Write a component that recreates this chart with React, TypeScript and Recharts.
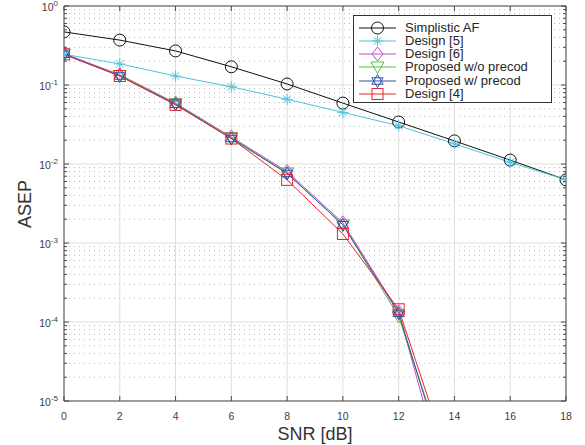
import React from 'react';
import { LineChart, Line, XAxis, YAxis, CartesianGrid } from 'recharts';

// ---- data ----
const SNR = [0, 2, 4, 6, 8, 10, 12, 14, 16, 18];
const SIMPLISTIC_AF = [0.47, 0.37, 0.27, 0.17, 0.103, 0.059, 0.034, 0.0196, 0.0112, 0.0063];
const DESIGN_5 = [0.245, 0.185, 0.13, 0.095, 0.066, 0.045, 0.0305, 0.018, 0.0105, 0.0063];
const DESIGN_6 = [0.25, 0.135, 0.059, 0.022, 0.008, 0.0018, 0.000135, 3.6e-7, null, null];
const PROPOSED_NO_PRECOD = [0.245, 0.132, 0.058, 0.0215, 0.0077, 0.0017, 0.000117, 8.5e-7, null, null];
const PROPOSED_PRECOD = [0.245, 0.13, 0.057, 0.021, 0.0076, 0.0017, 0.000129, 6.7e-7, null, null];
const DESIGN_4 = [0.245, 0.13, 0.056, 0.021, 0.0063, 0.0013, 0.000145, 1.07e-6, null, null];

const X_TICKS = [0, 2, 4, 6, 8, 10, 12, 14, 16, 18];
const Y_DECADES = [1e-5, 1e-4, 1e-3, 1e-2, 1e-1, 1];
const Y_EXPONENTS = ['-5', '-4', '-3', '-2', '-1', '0'];
const MINOR_MULT = [2, 3, 4, 5, 6, 7, 8, 9];
const Y_MINOR = Y_DECADES.slice(0, -1).flatMap((d) => MINOR_MULT.map((m) => m * d));
const Y_ALL_TICKS = [...Y_DECADES, ...Y_MINOR].sort((a, b) => a - b);

const SERIES = [
  { key: 'simplistic', name: 'Simplistic AF', color: '#111111', shape: 'circle', values: SIMPLISTIC_AF },
  { key: 'design5', name: 'Design [5]', color: '#4fc4da', shape: 'asterisk', values: DESIGN_5 },
  { key: 'design6', name: 'Design [6]', color: '#bf4fbf', shape: 'diamond', values: DESIGN_6 },
  { key: 'propNo', name: 'Proposed w/o precod', color: '#57c03e', shape: 'triangleDown', values: PROPOSED_NO_PRECOD },
  { key: 'propW', name: 'Proposed w/ precod', color: '#2f4fab', shape: 'hexagram', values: PROPOSED_PRECOD },
  { key: 'design4', name: 'Design [4]', color: '#e8242b', shape: 'square', values: DESIGN_4 },
];

const DATA = SNR.map((x, i) => {
  const row: any = { snr: x };
  SERIES.forEach((s) => {
    row[s.key] = s.values[i];
  });
  return row;
});

const W = 585;
const H = 445;
const AXIS_COLOR = '#4a4a4a';
const TEXT_COLOR = '#404040';
const FONT = '"Liberation Sans", Arial, Helvetica, sans-serif';

function Marker({ shape, cx, cy, color }: { shape: string; cx: number; cy: number; color: string }) {
  const common = { fill: 'none', stroke: color, strokeWidth: 1 };
  switch (shape) {
    case 'circle':
      return <circle cx={cx} cy={cy} r={6} {...common} />;
    case 'asterisk': {
      const r = 5.5;
      const d = r * 0.707;
      return (
        <g {...common}>
          <line x1={cx - r} y1={cy} x2={cx + r} y2={cy} />
          <line x1={cx} y1={cy - r} x2={cx} y2={cy + r} />
          <line x1={cx - d} y1={cy - d} x2={cx + d} y2={cy + d} />
          <line x1={cx - d} y1={cy + d} x2={cx + d} y2={cy - d} />
        </g>
      );
    }
    case 'diamond':
      return <polygon points={`${cx},${cy - 7} ${cx + 5.5},${cy} ${cx},${cy + 7} ${cx - 5.5},${cy}`} {...common} />;
    case 'triangleDown':
      return <polygon points={`${cx - 6.5},${cy - 5} ${cx + 6.5},${cy - 5} ${cx},${cy + 6.5}`} {...common} />;
    case 'hexagram': {
      const r = 6.5;
      const a = (k: number) => {
        const ang = (Math.PI / 180) * (-90 + k * 120);
        return `${cx + r * Math.cos(ang)},${cy + r * Math.sin(ang)}`;
      };
      const b = (k: number) => {
        const ang = (Math.PI / 180) * (90 + k * 120);
        return `${cx + r * Math.cos(ang)},${cy + r * Math.sin(ang)}`;
      };
      return (
        <g {...common}>
          <polygon points={`${a(0)} ${a(1)} ${a(2)}`} />
          <polygon points={`${b(0)} ${b(1)} ${b(2)}`} />
        </g>
      );
    }
    case 'square':
      return <rect x={cx - 5.5} y={cy - 5.5} width={11} height={11} {...common} />;
    default:
      return null;
  }
}

const isMajor = (v: number) => Math.abs(Math.log10(v) - Math.round(Math.log10(v))) < 1e-6;

function LeftYTick(props: any) {
  const { x, y, payload } = props;
  const v = payload.value;
  const major = isMajor(v);
  const len = major ? 5 : 3;
  const idx = Y_DECADES.findIndex((d) => Math.abs(Math.log10(d) - Math.log10(v)) < 1e-6);
  return (
    <g>
      <line x1={x} y1={y} x2={x + len} y2={y} stroke={AXIS_COLOR} strokeWidth={1} />
      {major && idx >= 0 ? (
        <text x={x - 6} y={y + 5} textAnchor="end" fill={TEXT_COLOR} fontSize={10.5} fontFamily={FONT}>
          <tspan>10</tspan>
          <tspan dy={-5} fontSize={8}>{Y_EXPONENTS[idx]}</tspan>
        </text>
      ) : null}
    </g>
  );
}

function RightYTick(props: any) {
  const { x, y, payload } = props;
  const major = isMajor(payload.value);
  const len = major ? 5 : 3;
  return <line x1={x} y1={y} x2={x - len} y2={y} stroke={AXIS_COLOR} strokeWidth={1} />;
}

function BottomXTick(props: any) {
  const { x, y, payload } = props;
  return (
    <g>
      <line x1={x} y1={y} x2={x} y2={y - 5} stroke={AXIS_COLOR} strokeWidth={1} />
      <text x={x} y={y + 19} textAnchor="middle" fill={TEXT_COLOR} fontSize={10.5} fontFamily={FONT}>
        {payload.value}
      </text>
    </g>
  );
}

function TopXTick(props: any) {
  const { x, y } = props;
  return <line x1={x} y1={y} x2={x} y2={y + 5} stroke={AXIS_COLOR} strokeWidth={1} />;
}

function LegendBox() {
  const left = 353;
  const top = 15;
  const rowH = 13.3;
  return (
    <div
      style={{
        position: 'absolute',
        left,
        top,
        width: 199,
        height: 88,
        boxSizing: 'border-box',
        border: '1px solid #333',
        background: '#fff',
        fontFamily: FONT,
        fontSize: 13,
        color: '#262626',
      }}
    >
      {SERIES.map((s, i) => {
        const cy = 11.5 + i * rowH;
        return (
          <div key={s.key} style={{ position: 'absolute', left: 0, top: cy - 7, height: 14, width: 197 }}>
            <svg width={46} height={14} style={{ position: 'absolute', left: 0, top: 0, overflow: 'visible' }}>
              <line x1={5} y1={7} x2={42} y2={7} stroke={s.color} strokeWidth={1} />
              <Marker shape={s.shape} cx={23.5} cy={7} color={s.color} />
            </svg>
            <span style={{ position: 'absolute', left: 51, top: 0, lineHeight: '14px', height: 14, whiteSpace: 'nowrap' }}>
              {s.name}
            </span>
          </div>
        );
      })}
    </div>
  );
}

export default function App() {
  return (
    <div style={{ position: 'absolute', left: 0, top: 0, width: W, height: H, background: '#fff' }}>
      <LineChart width={W} height={H} data={DATA} margin={{ top: 0, right: 0, bottom: 0, left: 0 }}>
        <CartesianGrid
          horizontalValues={Y_MINOR}
          vertical={false}
          stroke="#b8b8b8"
          strokeDasharray="1 4"
        />
        <CartesianGrid
          horizontalValues={Y_DECADES}
          verticalValues={X_TICKS}
          stroke="#dedede"
        />
        <XAxis
          dataKey="snr"
          type="number"
          domain={[0, 18]}
          ticks={X_TICKS}
          interval={0}
          height={44}
          allowDataOverflow
          axisLine={{ stroke: AXIS_COLOR }}
          tickLine={false}
          tickSize={0}
          tickMargin={0}
          tick={<BottomXTick />}
          label={{
            value: 'SNR [dB]',
            position: 'insideBottom',
            offset: 5,
            fill: '#333',
            fontSize: 18,
            fontFamily: FONT,
          }}
        />
        <XAxis
          xAxisId="top"
          orientation="top"
          dataKey="snr"
          type="number"
          domain={[0, 18]}
          ticks={X_TICKS}
          interval={0}
          height={6}
          allowDataOverflow
          axisLine={{ stroke: AXIS_COLOR }}
          tickLine={false}
          tickSize={0}
          tickMargin={0}
          tick={<TopXTick />}
        />
        <YAxis
          type="number"
          scale="log"
          domain={[1e-5, 1]}
          ticks={Y_ALL_TICKS}
          interval={0}
          width={64}
          allowDataOverflow
          axisLine={{ stroke: AXIS_COLOR }}
          tickLine={false}
          tickSize={0}
          tickMargin={0}
          tick={<LeftYTick />}
          label={{
            content: () => (
              <text
                x={25}
                y={204}
                transform="rotate(-90 25 204)"
                textAnchor="middle"
                dominantBaseline="central"
                fill="#333"
                fontSize={18}
                fontFamily={FONT}
              >
                ASEP
              </text>
            ),
          }}
        />
        <YAxis
          yAxisId="right"
          orientation="right"
          type="number"
          scale="log"
          domain={[1e-5, 1]}
          ticks={Y_ALL_TICKS}
          interval={0}
          width={19}
          allowDataOverflow
          axisLine={{ stroke: AXIS_COLOR }}
          tickLine={false}
          tickSize={0}
          tickMargin={0}
          tick={<RightYTick />}
        />
        {SERIES.map((s) => (
          <Line
            key={s.key}
            dataKey={s.key}
            name={s.name}
            type="linear"
            stroke={s.color}
            strokeWidth={1}
            isAnimationActive={false}
            activeDot={false}
            connectNulls={false}
            dot={(p: any) => {
              if (p.cx == null || p.cy == null || p.value == null) return <g key={`${s.key}-${p.index}`} />;
              return (
                <g key={`${s.key}-${p.index}`}>
                  <Marker shape={s.shape} cx={p.cx} cy={p.cy} color={s.color} />
                </g>
              );
            }}
          />
        ))}
      </LineChart>
      <LegendBox />
    </div>
  );
}
